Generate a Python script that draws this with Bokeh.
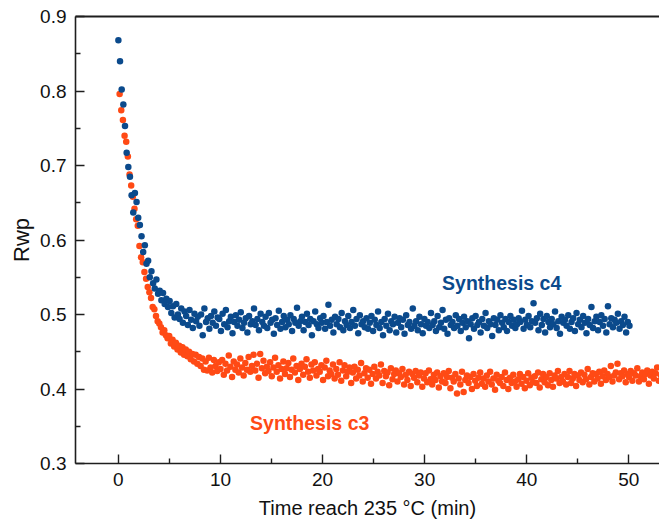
import numpy as np
from bokeh.plotting import figure
from bokeh.models import LinearAxis, FixedTicker, Range1d
from bokeh.core.properties import value
from bokeh.embed import file_html
from bokeh.resources import INLINE

# sampling of the in-situ scans (minutes)
c4_t0, c3_t0, dt = 0.0, 0.12, 0.162

# Rwp values (x1000), Synthesis c4
c4_rwp = [
    868, 840, 802, 782, 753, 717, 698, 685, 660, 637, 663, 651, 630,
    620, 605, 584, 593, 568, 572, 550, 558,
    542, 535, 547, 528, 532, 519, 529, 514, 521, 510,
    518, 502, 511, 496, 514, 500, 494, 508, 489, 504,
    498, 486, 506, 493, 482, 501, 491, 497, 485, 500,
    472, 508, 490, 495, 481, 498, 489, 504, 485, 496,
    494, 478, 501, 487, 506, 483, 491, 497, 475, 490,
    499, 485, 493, 503, 482, 489, 495, 476, 498, 487,
    491, 508, 486, 494, 479, 501, 490, 485, 497, 482,
    502, 489, 493, 474, 495, 486, 505, 481, 490, 498,
    483, 493, 487, 499, 478, 494, 489, 509, 485, 491,
    497, 479, 490, 501, 486, 494, 472, 491, 504, 487,
    482, 495, 489, 498, 481, 490, 513, 485, 493, 476,
    497, 487, 494, 483, 502, 479, 491, 486, 498, 482,
    490, 506, 485, 494, 475, 499, 487, 491, 483, 495,
    481, 489, 498, 478, 493, 486, 504, 482, 490, 472,
    494, 485, 501, 479, 491, 487, 497, 476, 489, 495,
    483, 493, 474, 499, 486, 490, 481, 508, 485, 491,
    479, 497, 487, 475, 494, 485, 490, 482, 502, 486,
    491, 478, 498, 483, 489, 506, 481, 493, 474, 495,
    486, 490, 482, 499, 485, 494, 478, 489, 497, 483,
    491, 468, 487, 495, 481, 498, 486, 490, 476, 494,
    485, 502, 482, 491, 487, 471, 495, 486, 493, 479,
    499, 489, 483, 494, 478, 490, 498, 485, 493, 482,
    487, 495, 490, 505, 481, 493, 486, 498, 483, 491,
    515, 489, 495, 479, 501, 486, 494, 476, 498, 490,
    483, 494, 487, 504, 482, 491, 474, 497, 489, 493,
    485, 499, 481, 490, 495, 478, 502, 487, 493, 483,
    498, 489, 475, 494, 486, 510, 482, 491, 497, 479,
    490, 499, 485, 494, 476, 511, 487, 495, 483, 493,
    489, 501, 481, 491, 486, 497, 476, 490, 485,
]

# Rwp values (x1000), Synthesis c3
c3_rwp = [
    796, 774, 761, 740, 732, 712, 688, 673, 658, 642,
    628, 619, 592, 577, 570, 557, 548, 537, 530, 522,
    510, 507, 498, 491, 488, 483, 476, 479, 472, 468,
    471, 461, 466, 457, 462, 453, 458, 449, 456, 446,
    453, 444, 450, 440, 447, 437, 446, 434, 443, 431,
    441, 426, 437, 425, 442, 429, 422, 439, 431, 424,
    436,
    427, 439, 419, 434, 425, 445, 430, 416, 437, 426,
    433, 422, 441, 429, 418, 435, 426, 443, 423, 431,
    446, 425, 434, 415, 447, 428, 438, 421, 430, 424,
    436, 417, 429, 442, 423, 432, 414, 427, 437, 420,
    428, 435, 416, 426, 441, 422, 431, 412, 427, 434,
    419, 430, 440, 423, 415, 433, 425, 436, 418, 427,
    423, 432, 412, 429, 438, 417, 425, 420, 433, 414,
    427, 419, 436, 411, 425, 432, 417, 423, 429, 408,
    422, 430, 414, 426, 418, 435, 410, 421, 428, 415,
    426, 407, 420, 430, 414, 423, 418, 433, 408, 424,
    417, 422, 405, 428, 413, 420, 425, 410, 421, 416,
    427, 406, 419, 412, 423, 404, 420, 415, 424, 409,
    418, 422, 403, 414, 421, 409, 425, 413, 406, 419,
    412, 422, 402, 417, 410, 421, 408, 416, 424, 401,
    415, 410, 420, 394, 414, 406, 423, 396, 412, 418,
    408, 416, 400, 420, 411, 404, 415, 422, 407, 414,
    403, 418, 410, 423, 406, 414, 399, 419, 411, 408,
    416, 404, 422, 412, 400, 415, 408, 419, 410, 403,
    413, 420, 407, 416, 401, 411, 421, 405, 415, 409,
    417, 408, 422, 402, 413, 420, 409, 416, 405, 421,
    412, 403, 418, 414, 424, 408, 416, 410, 420, 406,
    416, 424, 408, 414, 420, 404, 418, 412, 422, 409,
    419, 413, 427, 406, 416, 421, 410, 420, 414, 423,
    407, 417, 425, 412, 420, 416, 431, 410, 418, 422,
    434, 413, 421, 417, 425, 409, 420, 416, 424, 411,
    421, 418, 428, 410, 417, 422, 413, 420, 425, 407,
    418, 423, 414, 421, 429, 411, 419, 417, 422, 415,
]

x_ticks = [0, 10, 20, 30, 40, 50]
y_ticks = [0.3, 0.4, 0.5, 0.6, 0.7, 0.8, 0.9]
label_c4, label_c3 = "Synthesis c4", "Synthesis c3"
x_title, y_title = "Time reach 235 °C (min)", "Rwp"

c4_time = c4_t0 + dt * np.arange(len(c4_rwp))
c3_time = c3_t0 + dt * np.arange(len(c3_rwp))
c4_y = np.array(c4_rwp) / 1000.0
c3_y = np.array(c3_rwp) / 1000.0

BLUE = "#0b4a8c"
ORANGE = "#ff4a15"
FONT = "Liberation Sans"
AX = "#1e1e1e"

p = figure(width=659, height=522, output_backend="svg", toolbar_location=None,
           x_range=Range1d(-4.2, 53.0), y_range=Range1d(0.3, 0.9),
           min_border_left=75, min_border_right=0, min_border_top=16,
           min_border_bottom=59, x_axis_label=x_title, y_axis_label=y_title)
p.outline_line_color = None
p.grid.visible = False
p.background_fill_color = "white"
p.border_fill_color = "white"

p.xaxis.ticker = FixedTicker(ticks=x_ticks, minor_ticks=[5, 15, 25, 35, 45])
p.yaxis.ticker = FixedTicker(ticks=y_ticks,
                             minor_ticks=[0.35, 0.45, 0.55, 0.65, 0.75, 0.85])
for ax in (p.xaxis[0], p.yaxis[0]):
    ax.axis_line_color = AX
    ax.axis_line_width = 1.6
    ax.major_tick_line_color = AX
    ax.minor_tick_line_color = AX
    ax.major_tick_line_width = 1.4
    ax.minor_tick_line_width = 1.4
    ax.major_tick_in = 9
    ax.major_tick_out = 0
    ax.minor_tick_in = 5
    ax.minor_tick_out = 0
    ax.major_label_text_font = FONT
    ax.major_label_text_font_size = "19px"
    ax.major_label_text_color = "#111111"
    ax.axis_label_text_font = FONT
    ax.axis_label_text_font_style = "normal"
    ax.axis_label_text_color = "#111111"
    ax.major_label_standoff = 9
p.xaxis.axis_label_text_font_size = "20px"
p.xaxis.axis_label_standoff = 8
p.yaxis.axis_label_text_font_size = "22px"
p.yaxis.axis_label_standoff = 3

top = LinearAxis(ticker=FixedTicker(ticks=[]), axis_line_color=AX,
                 axis_line_width=2.2, major_tick_line_color=None,
                 minor_tick_line_color=None, major_label_text_font_size="0px",
                 major_label_standoff=0, major_tick_out=0, minor_tick_out=0)
p.add_layout(top, "above")

p.scatter(c3_time, c3_y, size=6.5, color=ORANGE, line_color=None)
p.scatter(c4_time, c4_y, size=6.5, color=BLUE, line_color=None)

p.text(x=[31.7], y=[0.542], text=[label_c4], text_color=BLUE,
       text_font=value(FONT), text_font_size="19.5px", text_font_style="bold",
       text_baseline="alphabetic", text_align="left")
p.text(x=[12.9], y=[0.354], text=[label_c3], text_color=ORANGE,
       text_font=value(FONT), text_font_size="19.5px", text_font_style="bold",
       text_baseline="alphabetic", text_align="left")

open("out.html", "w").write(file_html(p, INLINE))
